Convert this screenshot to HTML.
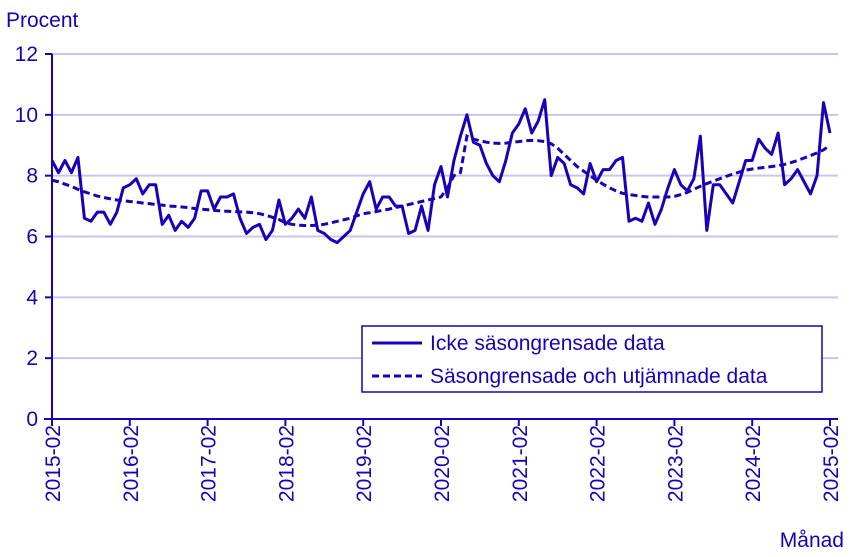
<!DOCTYPE html>
<html><head><meta charset="utf-8"><style>
body{margin:0;background:#fff;}
svg{display:block;font-family:"Liberation Sans",sans-serif;}
</style></head><body>
<svg id="chart" width="850" height="557">
<text x="6" y="27" font-size="21" fill="#1a00b8">Procent</text>
<text x="844" y="547" font-size="21" fill="#1a00b8" text-anchor="end">Månad</text>
<g id="grid"></g><g id="axes"></g><g id="series"></g>
<g>
<rect x="362" y="326" width="460" height="66" fill="#fff" stroke="#1a00b8" stroke-width="1.5"/>
<line x1="372" y1="343" x2="422" y2="343" stroke="#1a00b8" stroke-width="3"/>
<text x="430" y="350" font-size="21" fill="#1a00b8">Icke säsongrensade data</text>
<line x1="372" y1="376" x2="422" y2="376" stroke="#1a00b8" stroke-width="3" stroke-dasharray="7,4"/>
<text x="430" y="383" font-size="21" fill="#1a00b8">Säsongrensade och utjämnade data</text>
</g>
</svg>
<script>
const yTicks=[0,2,4,6,8,10,12];
const xTickLabels=["2015-02","2016-02","2017-02","2018-02","2019-02","2020-02","2021-02","2022-02","2023-02","2024-02","2025-02"];
const rawValues=[8.5,8.1,8.5,8.1,8.6,6.6,6.5,6.8,6.8,6.4,6.8,7.6,
7.7,7.9,7.4,7.7,7.7,6.4,6.7,6.2,6.5,6.3,6.6,7.5,
7.5,6.9,7.3,7.3,7.4,6.6,6.1,6.3,6.4,5.9,6.2,7.2,
6.4,6.6,6.9,6.6,7.3,6.2,6.1,5.9,5.8,6.0,6.2,6.8,
7.4,7.8,6.9,7.3,7.3,7.0,7.0,6.1,6.2,7.0,6.2,7.7,
8.3,7.3,8.5,9.3,10.0,9.1,9.0,8.4,8.0,7.8,8.5,9.4,
9.7,10.2,9.4,9.8,10.5,8.0,8.6,8.4,7.7,7.6,7.4,8.4,
7.8,8.2,8.2,8.5,8.6,6.5,6.6,6.5,7.1,6.4,6.9,7.6,
8.2,7.7,7.5,7.9,9.3,6.2,7.7,7.7,7.4,7.1,7.8,8.5,
8.5,9.2,8.9,8.7,9.4,7.7,7.9,8.2,7.8,7.4,8.0,10.4,9.4];
const trendValues=[7.85,7.8,7.72,7.65,7.55,7.47,7.4,7.33,7.28,7.24,7.2,7.18,
7.15,7.13,7.1,7.08,7.05,7.03,7.0,6.99,6.97,6.95,6.92,6.9,
6.88,6.86,6.84,6.83,6.82,6.81,6.8,6.78,6.75,6.7,6.63,6.56,
6.45,6.4,6.37,6.36,6.36,6.37,6.4,6.45,6.5,6.55,6.6,6.68,
6.75,6.78,6.82,6.86,6.9,6.95,7.0,7.05,7.1,7.15,7.2,7.25,
7.3,7.6,8.0,8.1,9.3,9.2,9.15,9.1,9.07,9.06,9.07,9.1,
9.12,9.15,9.16,9.15,9.12,9.05,8.9,8.7,8.5,8.3,8.15,8.0,
7.85,7.72,7.6,7.5,7.42,7.38,7.35,7.32,7.3,7.3,7.3,7.3,
7.32,7.38,7.45,7.55,7.65,7.74,7.82,7.9,7.98,8.05,8.12,8.18,
8.22,8.25,8.27,8.3,8.33,8.37,8.43,8.5,8.58,8.66,8.75,8.85,9.0];
const C="#1a00b8",NS="http://www.w3.org/2000/svg";
const x0=52,x1=830,yb=419,yt=54;
const xs=i=>x0+(x1-x0)*i/120, ys=v=>yb-(yb-yt)*v/12;
function mk(t,a,p){const e=document.createElementNS(NS,t);for(const k in a)e.setAttribute(k,a[k]);p.appendChild(e);return e;}
const grid=document.getElementById('grid'),axes=document.getElementById('axes'),ser=document.getElementById('series');
yTicks.forEach(v=>{
 if(v>0){const g=mk('line',{x1:x0,x2:838,y1:ys(v),y2:ys(v),stroke:'#c9c5ef','stroke-width':2},grid);
 
 }
 const tk=mk('line',{x1:x0-7,x2:x0,y1:ys(v),y2:ys(v),stroke:C,'stroke-width':2},axes);
 
 
 const t=mk('text',{x:38,y:ys(v)+7,'font-size':21,fill:C,'text-anchor':'end'},axes);t.textContent=v;
 
 
});
const ya=mk('line',{x1:x0,x2:x0,y1:yt,y2:yb,stroke:C,'stroke-width':2},axes);


const xa=mk('line',{x1:44,x2:838,y1:yb,y2:yb,stroke:C,'stroke-width':2},axes);


xTickLabels.forEach((l,k)=>{const x=xs(k*12);
 const tk=mk('line',{x1:x,x2:x,y1:yb,y2:yb+7,stroke:C,'stroke-width':2},axes);
 
 
 const t=mk('text',{x:0,y:0,'font-size':21,fill:C,'text-anchor':'end',transform:`translate(${x+8},${yb+6}) rotate(-90)`},axes);t.textContent=l;
 
 
});
const tp=mk('polyline',{points:trendValues.map((v,i)=>xs(i)+','+ys(v)).join(' '),fill:'none',stroke:C,'stroke-width':3,'stroke-dasharray':'7,4'},ser);


const rp=mk('polyline',{points:rawValues.map((v,i)=>xs(i)+','+ys(v)).join(' '),fill:'none',stroke:C,'stroke-width':3,'stroke-linejoin':'round'},ser);


</script>
</body></html>
